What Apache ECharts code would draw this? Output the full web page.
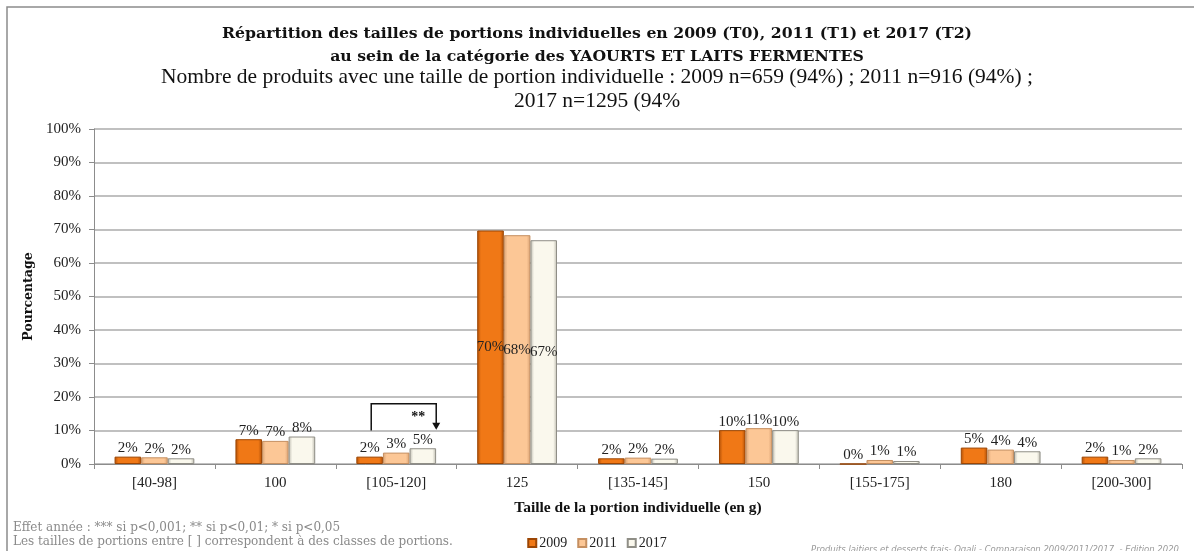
<!DOCTYPE html>
<html>
<head>
<meta charset="utf-8">
<script src="https://cdn.jsdelivr.net/npm/echarts@6/dist/echarts.min.js"></script>
<style>
  html, body { margin: 0; padding: 0; background: #fff; }
  #chart { width: 1194px; height: 551px; }
</style>
</head>
<body>
<div id="chart"></div>
<script>
// catégories de portions
var categories = ['[40-98]', '100', '[105-120]', '125', '[135-145]', '150', '[155-175]', '180', '[200-300]'];
var years = ['2009', '2011', '2017'];
// pourcentages
var values2009 = [2.2, 7.4, 2.2, 69.7, 1.7, 10.1, 0, 4.9, 2.2];
var values2011 = [2.0, 6.9, 3.4, 68.3, 1.9, 10.7, 1.2, 4.3, 1.2];
var values2017 = [1.7, 8.2, 4.7, 66.8, 1.6, 10.1, 0.9, 3.8, 1.7];
var yTicks = [0, 10, 20, 30, 40, 50, 60, 70, 80, 90, 100];

var FONT = '"Liberation Serif", "DejaVu Serif", serif';
var WIDE = '"DejaVu Serif", serif';

var palettes = [
    {edge: '#b04f06', mid: '#f07816', border: '#9c4604'},
    {edge: '#d9a274', mid: '#fcc796', border: '#c58f60'},
    {edge: '#bdbbb0', mid: '#faf8ed', border: '#8f8e86'}
];

function barColor(p) {
    return new echarts.graphic.LinearGradient(0, 0, 1, 0, [
        {offset: 0, color: p.edge},
        {offset: 0.14, color: p.mid},
        {offset: 0.86, color: p.mid},
        {offset: 1, color: p.edge}
    ]);
}

function buildData(arr) {
    return arr.map(function (v) {
        return {
            value: v,
            label: {position: v > 50 ? 'inside' : 'top', distance: 1}
        };
    });
}

var allValues = [values2009, values2011, values2017];

var series = years.map(function (y, i) {
    return {
        name: y,
        type: 'bar',
        barGap: '0%',
        barCategoryGap: '34%',
        data: buildData(allValues[i]),
        itemStyle: {
            color: barColor(palettes[i]),
            borderColor: palettes[i].border,
            borderWidth: 1
        },
        label: {
            show: true,
            fontFamily: FONT,
            fontSize: 15,
            color: '#222',
            formatter: function (p) { return Math.round(p.value) + '%'; }
        }
    };
});

var chart = echarts.init(document.getElementById('chart'));

chart.setOption({
    animation: false,
    color: ['#f07816', '#fcc796', '#faf8ed'],
    title: [
        {
            text: 'Répartition des tailles de portions individuelles en 2009 (T0), 2011 (T1) et 2017 (T2)\nau sein de la catégorie des YAOURTS ET LAITS FERMENTES',
            left: 'center', top: 17,
            textStyle: {fontFamily: WIDE, fontSize: 15.7, fontWeight: 'bold', color: '#111', lineHeight: 23}
        },
        {
            text: 'Nombre de produits avec une taille de portion individuelle : 2009 n=659 (94%) ; 2011 n=916 (94%) ;\n2017 n=1295 (94%',
            left: 'center', top: 60,
            textStyle: {fontFamily: FONT, fontSize: 21.5, fontWeight: 'normal', color: '#111', lineHeight: 24}
        },
        {
            text: 'Effet année : *** si p<0,001; ** si p<0,01; * si p<0,05\nLes tailles de portions entre [ ] correspondent à des classes de portions.',
            left: 8, top: 516,
            textStyle: {fontFamily: WIDE, fontSize: 12, fontWeight: 'normal', color: '#8a8a8a', lineHeight: 14}
        },
        {
            text: 'Produits laitiers et desserts frais- Oqali - Comparaison 2009/2011/2017  - Edition 2020',
            right: 10, top: 540,
            textStyle: {fontFamily: '"DejaVu Sans", sans-serif', fontSize: 8.5, fontStyle: 'italic', fontWeight: 'normal', color: '#9a9a9a'}
        }
    ],
    legend: {
        data: years,
        left: 'center',
        top: 531,
        icon: 'rect',
        itemWidth: 8,
        itemHeight: 8,
        itemGap: 10,
        textStyle: {fontFamily: FONT, fontSize: 14, color: '#222', padding: [0, 0, 0, -2]}
    },
    grid: {left: 94, right: 12, top: 129, bottom: 87},
    xAxis: {
        type: 'category',
        data: categories,
        name: 'Taille de la portion individuelle (en g)',
        nameLocation: 'middle',
        nameGap: 36,
        nameTextStyle: {fontFamily: FONT, fontSize: 15.5, fontWeight: 'bold', color: '#111'},
        axisLine: {lineStyle: {color: '#8c8c8c'}},
        axisTick: {show: true, length: 5, lineStyle: {color: '#8c8c8c'}},
        axisLabel: {fontFamily: FONT, fontSize: 15, color: '#222', margin: 12}
    },
    yAxis: {
        type: 'value',
        min: yTicks[0],
        max: yTicks[yTicks.length - 1],
        interval: 10,
        name: 'Pourcentage',
        nameLocation: 'middle',
        nameGap: 55,
        nameTextStyle: {fontFamily: WIDE, fontSize: 12.5, fontWeight: 'bold', color: '#111'},
        axisLine: {show: true, lineStyle: {color: '#8c8c8c'}},
        axisTick: {show: true, length: 5, lineStyle: {color: '#8c8c8c'}},
        axisLabel: {fontFamily: FONT, fontSize: 15, color: '#222', margin: 13, formatter: '{value}%'},
        splitLine: {lineStyle: {color: '#ababab', width: 1.5}}
    },
    series: series
});

// cadre + accolade de significativité (**) sur [105-120]
var c = chart.convertToPixel({xAxisIndex: 0}, categories[2]);
var yLow = chart.convertToPixel({yAxisIndex: 0}, 10);
var yTop = chart.convertToPixel({yAxisIndex: 0}, 18);
var yTip = chart.convertToPixel({yAxisIndex: 0}, 10.2);
var xl = c - 25, xr = c + 40;

chart.setOption({
    graphic: [
        {
            type: 'rect', silent: true,
            shape: {x: 7, y: 7, width: 1210, height: 600},
            style: {fill: 'none', stroke: '#8c8c8c', lineWidth: 1.5}
        },
        {
            type: 'polyline', silent: true,
            shape: {points: [[xl, yLow], [xl, yTop], [xr, yTop], [xr, yTip - 6]]},
            style: {fill: 'none', stroke: '#111', lineWidth: 1.5}
        },
        {
            type: 'polygon', silent: true,
            shape: {points: [[xr - 4, yTip - 7], [xr + 4, yTip - 7], [xr, yTip]]},
            style: {fill: '#111'}
        },
        {
            type: 'text', silent: true,
            x: xr - 18, y: yTop + 14,
            style: {text: '**', fontFamily: FONT, fontSize: 14, fontWeight: 'bold', fill: '#111', align: 'center', verticalAlign: 'middle'}
        }
    ]
});
</script>
</body>
</html>
